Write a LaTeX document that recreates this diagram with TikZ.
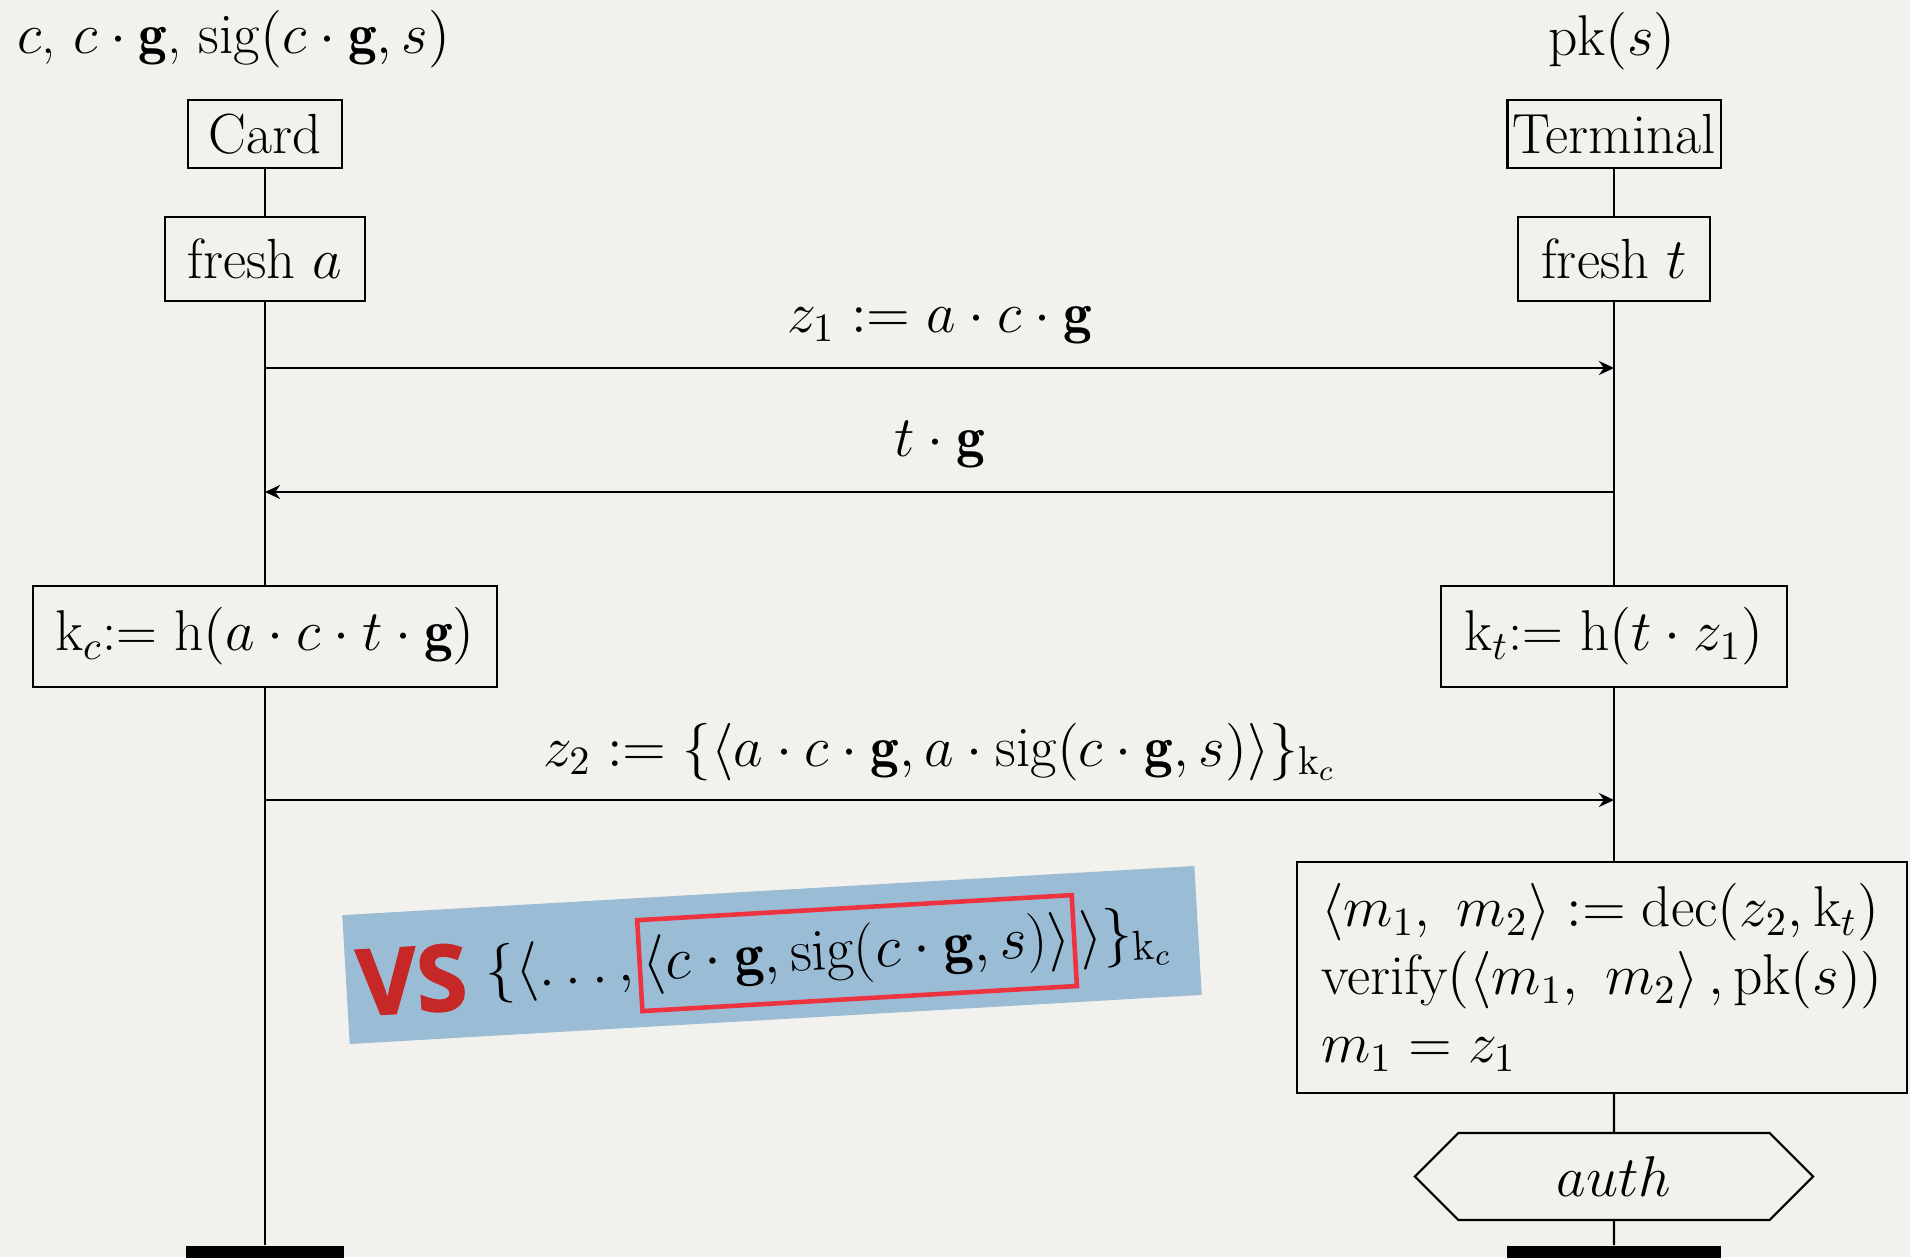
\RequirePackage{fix-cm}
\documentclass[tikz,border=0pt]{standalone}
\usepackage{amsmath,amssymb}
\usepackage{fontspec}
\newfontfamily\vsfont{Open Sans}[BoldFeatures={FakeBold=2}]
\usetikzlibrary{arrows.meta, positioning, shapes.symbols}
\definecolor{paper}{HTML}{F2F1ED}
\definecolor{bandblue}{HTML}{9BBCD5}
\definecolor{vsred}{HTML}{C62828}
\definecolor{boxred}{HTML}{EE3340}
\DeclareMathSizes{16.1}{16.35}{11.45}{8.2}
\newcommand{\diagfont}{\fontsize{16.1}{19.3}\selectfont}
\newcommand{\bandfont}{\fontsize{17}{20}\selectfont}
\newcommand{\gen}{\mathbf{g}}

\begin{document}
\begin{tikzpicture}[
    x=0.01cm, y=-0.01cm,
    box/.style={draw, line width=0.6pt, inner sep=0pt, font=\diagfont},
    lbl/.style={inner sep=0pt, font=\diagfont},
    life/.style={line width=0.6pt},
    msg/.style={->, line width=0.6pt},
    foot/.style={fill=black, inner sep=0pt, minimum height=0.2cm, anchor=north},
    >={Stealth[length=4.3pt, width=4pt]}
]
\useasboundingbox (0,0) rectangle (1910,1257);
\fill[paper] (0,0) rectangle (1910,1257);

% instance heads
\node[lbl, anchor=base west] (cardknows) at (17,53) {$c$, $c\cdot\gen$, $\mathrm{sig}(c\cdot\gen, s)$};
\node[lbl, anchor=base] (termknows) at (1612,55) {$\mathrm{pk}(s)$};
\node[box, minimum width=1.54cm, minimum height=0.68cm] (card) at (265,134) {Card};
\node[box, minimum width=2.13cm, minimum height=0.68cm] (term) at (1614,134) {Terminal};

% actions
\node[box, minimum width=2.00cm, minimum height=0.84cm] (cardfresh) at (265,259) {fresh $a$};
\node[box, minimum width=1.92cm, minimum height=0.84cm] (termfresh) at (1614,259) {fresh $t$};
\node[box, minimum width=4.63cm, minimum height=1.01cm] (cardkey) at (265,636.5) {$\mathrm{k}_c$:= $\mathrm{h}(a\cdot c\cdot t\cdot\gen)$};
\node[box, minimum width=3.46cm, minimum height=1.01cm] (termkey) at (1614,636.5) {$\mathrm{k}_t$:= $\mathrm{h}(t\cdot z_1)$};
\node[box, minimum width=6.10cm, minimum height=2.31cm, align=left] (termcheck) at (1602,977.5) {%
  $\left\langle m_1,\ m_2\right\rangle := \mathrm{dec}(z_2, \mathrm{k}_t)$\\
  verify$(\left\langle m_1,\ m_2\right\rangle, \mathrm{pk}(s))$\\
  $m_1 = z_1$};
\node[box, signal, signal to=west and east, minimum width=3.98cm, minimum height=0.87cm] (auth) at (1614,1176.5) {$auth$};

% instance feet
\node[foot, minimum width=1.57cm] (cardfoot) at (265,1245) {};
\node[foot, minimum width=2.13cm] (termfoot) at (1614,1245) {};

% lifelines
\draw[life] (card) -- (cardfresh);
\draw[life] (cardfresh) -- (cardkey);
\draw[life] (cardkey) -- (cardfoot);
\draw[life] (term) -- (termfresh);
\draw[life] (termfresh) -- (termkey);
\draw[life] (termkey) -- (termkey.south |- termcheck.north);
\draw[life] (termcheck.south -| auth) -- (auth);
\draw[life] (auth) -- (termfoot);

% messages
\coordinate (c1) at (265,368);
\coordinate (t1) at (1614,368);
\coordinate (t2) at (1614,492);
\coordinate (c2) at (265,492);
\coordinate (c3) at (265,800);
\coordinate (t3) at (1614,800);
\draw[msg] (c1) -- node[lbl, anchor=base, yshift=10pt] (z1lbl) {$z_1 := a\cdot c\cdot\gen$} (t1);
\draw[msg] (t2) -- node[lbl, anchor=base, yshift=10pt] (tglbl) {$t\cdot\gen$} (c2);
\draw[msg] (c3) -- node[lbl, anchor=base, yshift=9.6pt] (z2lbl) {$z_2 := \{\langle a\cdot c\cdot\gen, a\cdot\mathrm{sig}(c\cdot\gen, s)\rangle\}_{\mathrm{k}_c}$} (t3);

% highlighted band
\node[fill=bandblue, rotate=3.3, minimum width=8.53cm, minimum height=1.29cm, inner sep=0pt] (band) at (772,955) {};
\begin{scope}[rotate around={3.3:(772,955)}, every node/.append style={transform shape}]
\node[font=\vsfont\fontsize{26}{30}\selectfont\bfseries, text=vsred, inner sep=0pt] (vs) at (411,959) {VS};
\node[draw=boxred, line width=1.3pt, font=\bandfont, inner xsep=0.03cm, inner ysep=0.1cm, minimum height=0.91cm] (sigpart) at (857,958) {$\langle c\cdot\gen, \mathrm{sig}(c\cdot\gen, s)\rangle$};
\node[font=\bandfont, inner sep=0pt, left=0.03cm of sigpart] (openpart) {$\{\langle \ldots,$};
\node[font=\bandfont, inner sep=0pt, right=0.02cm of sigpart] (closepart) {$\rangle\}_{\mathrm{k}_c}$};
\end{scope}
\end{tikzpicture}
\end{document}
